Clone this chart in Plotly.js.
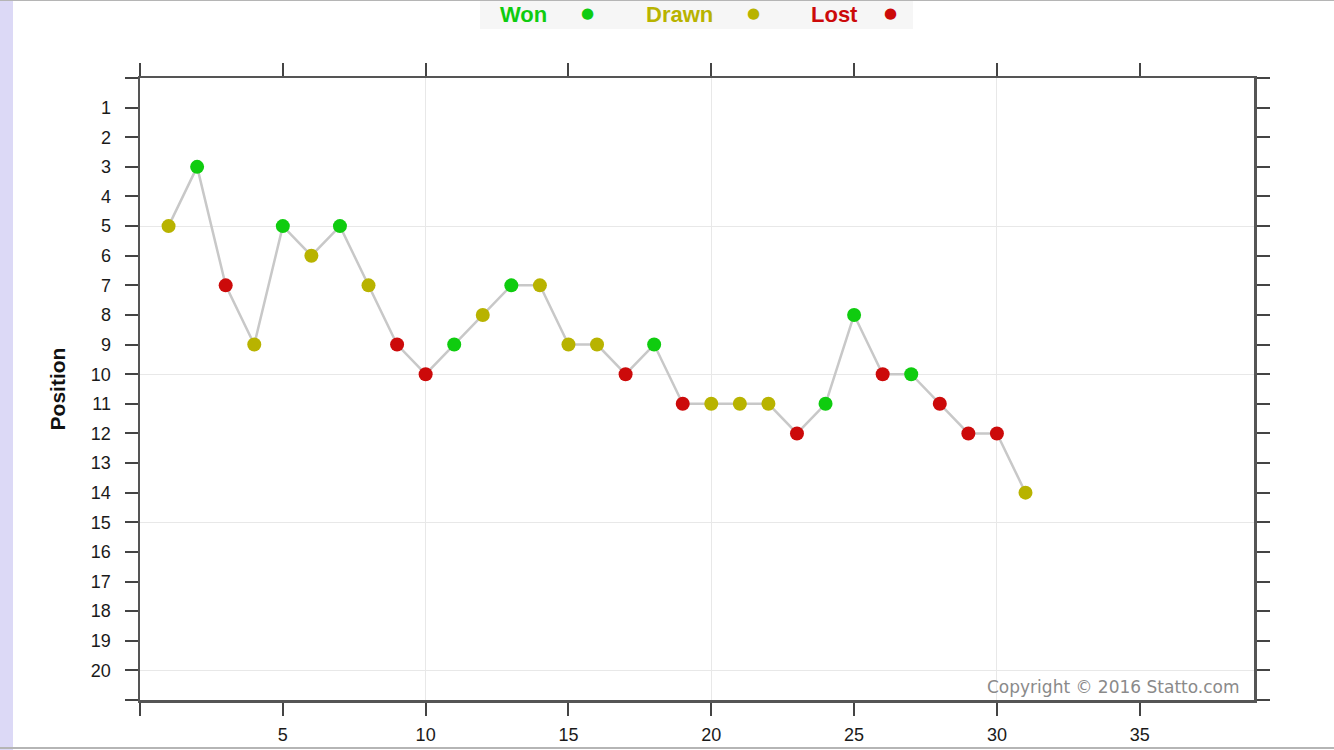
<!DOCTYPE html>
<html>
<head>
<meta charset="utf-8">
<script src="https://cdn.plot.ly/plotly-3.0.1.min.js"></script>
<style>
  html, body { margin:0; padding:0; background:#fff; }
  #wrap { position:relative; width:1334px; height:750px; overflow:hidden; }
  #strip { position:absolute; left:0; top:0; width:13px; height:750px; background:#dcd9f6; z-index:2; }
  #topline { position:absolute; left:0; top:0; width:1334px; height:1px; background:#b5b5b5; z-index:2; }
  #botline { position:absolute; left:0; top:747px; width:1334px; height:2px; background:#b5b5b5; z-index:2; }
  #chart { position:absolute; left:0; top:0; width:1334px; height:750px; }
</style>
</head>
<body>
<div id="wrap">
  <div id="chart"></div>
  <div id="strip"></div>
  <div id="topline"></div>
  <div id="botline"></div>
</div>
<script>
// Match number and league position after each match
const games = [1,2,3,4,5,6,7,8,9,10,11,12,13,14,15,16,17,18,19,20,21,22,23,24,25,26,27,28,29,30,31];
const positions = [5,3,7,9,5,6,5,7,9,10,9,8,7,7,9,9,10,9,11,11,11,11,12,11,8,10,10,11,12,12,14];
const results = ['D','W','L','D','W','D','W','D','L','L','W','D','W','D','D','D','L','W','L','D','D','D','L','W','W','L','W','L','L','L','D'];

const xTickVals = [0,5,10,15,20,25,30,35];
const xTickText = ['','5','10','15','20','25','30','35'];
const yTickVals = [0,1,2,3,4,5,6,7,8,9,10,11,12,13,14,15,16,17,18,19,20,21];
const yTickText = ['','1','2','3','4','5','6','7','8','9','10','11','12','13','14','15','16','17','18','19','20',''];
const xGridVals = [10,20,30];
const yGridVals = [5,10,15,20];

const legendLabels = ['Won','Drawn','Lost'];
const legendKeys = ['W','D','L'];
const colorMap = { W:'#0fcc0f', D:'#b8b300', L:'#cc0a0a' };

const lineTrace = {
  x: games, y: positions, type:'scatter', mode:'lines',
  line: { color:'#c8c8c8', width:2.5 }, hoverinfo:'skip', showlegend:false
};
const markerTrace = {
  x: games, y: positions, type:'scatter', mode:'markers',
  marker: { size:14, color: results.map(r => colorMap[r]) },
  showlegend:false
};

const FONT = 'Liberation Sans, Arial, sans-serif';
const axisFont = { family:FONT, size:18, color:'#1a1a1a' };

const legendTextX = [0.3447, 0.4847, 0.6230];
const legendDotX = [0.4013, 0.5503, 0.6741];
const legendY = 1.1015;
const annotations = [];
legendLabels.forEach((t, i) => {
  annotations.push({
    xref:'paper', yref:'paper', x: legendTextX[i], y: legendY, xanchor:'center', yanchor:'middle',
    text: '<b>' + t + '</b>', showarrow:false,
    font: { family:FONT, size:22, color: colorMap[legendKeys[i]] }
  });
  annotations.push({
    xref:'paper', yref:'paper', x: legendDotX[i], y: legendY + 0.003, xanchor:'center', yanchor:'middle',
    text: '●', showarrow:false,
    font: { family:'DejaVu Sans, sans-serif', size:15, color: colorMap[legendKeys[i]] }
  });
});
annotations.push({
  xref:'paper', yref:'paper', x:0.989, y:0.0, xanchor:'right', yanchor:'bottom', yshift:1,
  text:'Copyright © 2016 Statto.com', showarrow:false,
  font: { family:'DejaVu Sans, sans-serif', size:17, color:'#8a8a8a' }
});

const layout = {
  width:1334, height:750,
  margin: { l:140, r:80, t:78, b:50 },
  paper_bgcolor:'#ffffff', plot_bgcolor:'#ffffff',
  showlegend:false,
  xaxis: {
    range:[0,39], tickmode:'array', tickvals:xTickVals, ticktext:xTickText,
    ticks:'outside', ticklen:13, tickwidth:2, tickcolor:'#444',
    showline:true, linecolor:'#555', linewidth:2.5, mirror:'ticks',
    showgrid:false, zeroline:false, tickfont:axisFont, ticklabelstandoff:4,
    minor: { tickmode:'array', tickvals:xGridVals, showgrid:true, gridcolor:'#e8e8e8', gridwidth:1, ticks:'' }
  },
  yaxis: {
    range:[21,0], tickmode:'array', tickvals:yTickVals, ticktext:yTickText,
    ticks:'outside', ticklen:13, tickwidth:2, tickcolor:'#444',
    showline:true, linecolor:'#555', linewidth:2.5, mirror:'ticks',
    showgrid:false, zeroline:false, tickfont:axisFont, ticklabelstandoff:10,
    title: { text:'<b>Position</b>', font:{ family:FONT, size:21, color:'#111' }, standoff:20 },
    minor: { tickmode:'array', tickvals:yGridVals, showgrid:true, gridcolor:'#e8e8e8', gridwidth:1, ticks:'' }
  },
  shapes: [{
    type:'rect', xref:'paper', yref:'paper', x0:0.3052, x1:0.6939, y0:1.0788, y1:1.1254,
    fillcolor:'#f6f6f6', line:{ width:0 }, layer:'below'
  }],
  annotations: annotations
};

Plotly.newPlot('chart', [lineTrace, markerTrace], layout, { displayModeBar:false, staticPlot:true });
</script>
</body>
</html>
